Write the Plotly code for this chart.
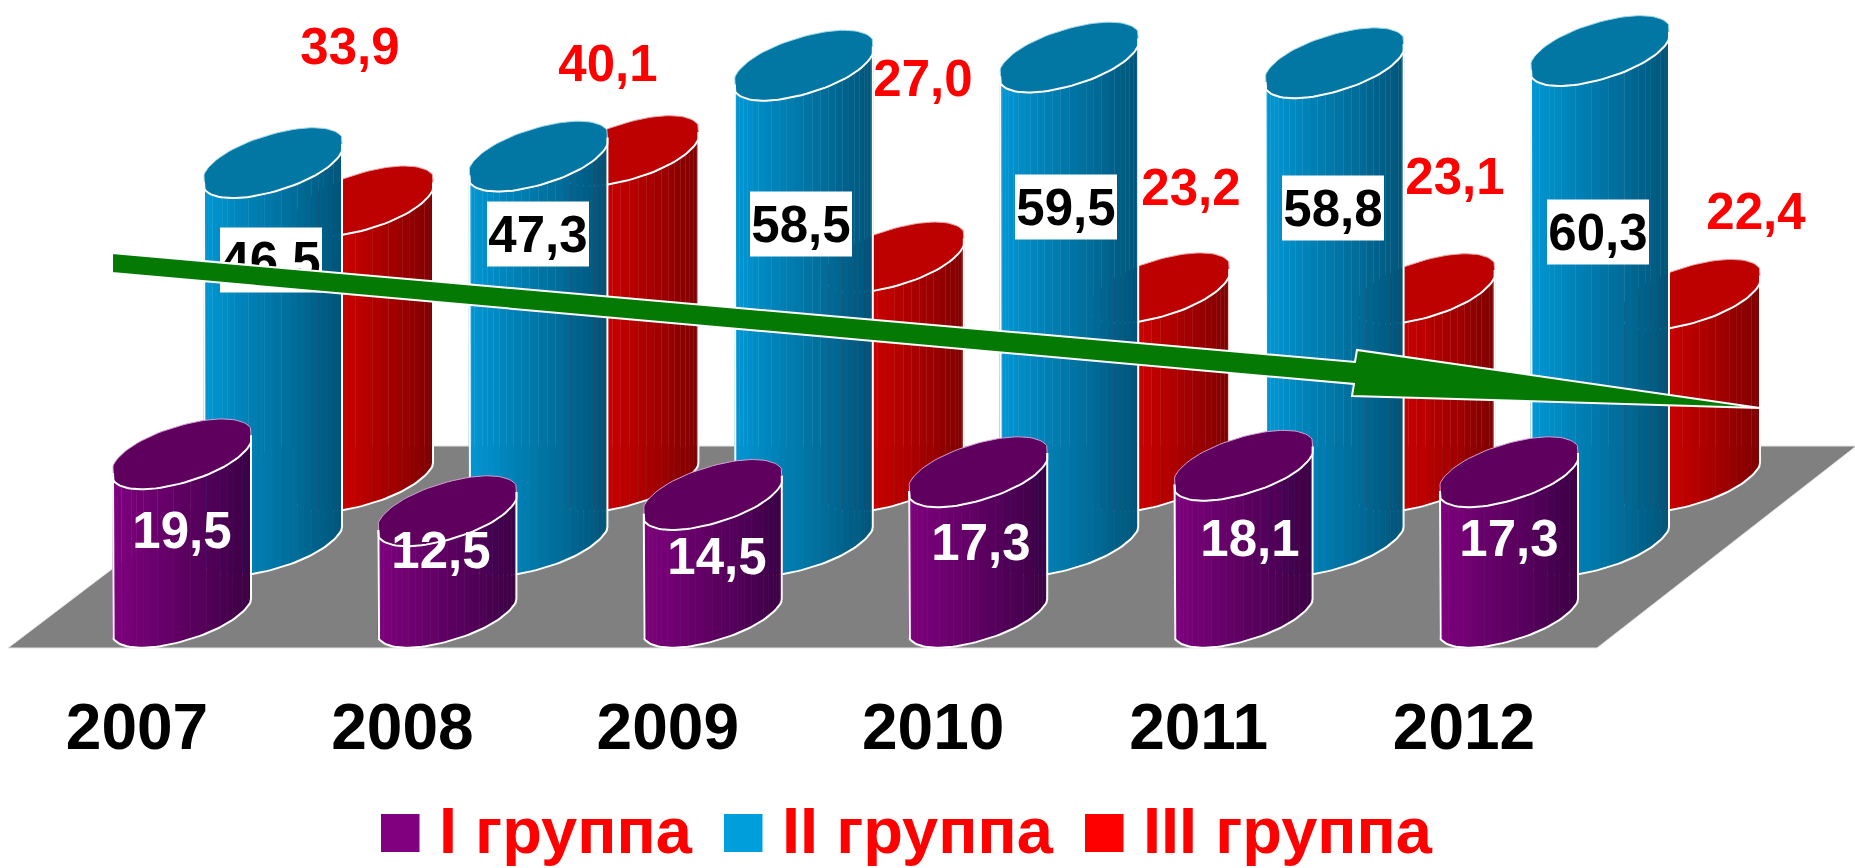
import numpy as np
import plotly.graph_objects as go

# ---- data -----------------------------------------------------------------
years = ["2007", "2008", "2009", "2010", "2011", "2012"]
group1 = [19.5, 12.5, 14.5, 17.3, 18.1, 17.3]
group2 = [46.5, 47.3, 58.5, 59.5, 58.8, 60.3]
group3 = [33.9, 40.1, 27.0, 23.2, 23.1, 22.4]
legend_names = ["I группа", "II группа", "III группа"]

# ---- layout of the fake 3-D scene (page pixels) ----------------------------
W, H = 1855, 868
PLOT_BOTTOM = 684
X0, X_UNIT = 137.0, 265.4     # page x of category 0, pixels per category
Y0, Y_UNIT = 612.5, 8.12      # page y of value 0 on the front row, px per unit
FONT = "Liberation Sans"


def dx(px):
    return (px - X0) / X_UNIT


def dy(py):
    return (Y0 - py) / Y_UNIT


R_X = 69 / X_UNIT
SHEAR = 19 / Y_UNIT
R_Y = 29 / Y_UNIT
SUPER = 0.95                  # slightly squared-off ellipse, as in the original caps
CLIP = 1.025                  # short vertical runs at the left and right of every cap
CENTER_OFFSET = 45 / X_UNIT
DEPTH_X = 91 / X_UNIT

# grad0: where, across the cylinder (-1 left .. 1 right), the colour ramp starts
series = [
    dict(vals=group3, slot=2, lift=136 / Y_UNIT, left=(204, 0, 0), right=(125, 0, 0),
         cap="#BD0000", edge="#F0A0A0", grad0=-0.32),
    dict(vals=group2, slot=1, lift=72 / Y_UNIT, left=(0, 152, 214), right=(0, 84, 120),
         cap="#0377A4", edge="#A0D8EC", grad0=-1.0),
    dict(vals=group1, slot=0, lift=0.0, left=(128, 0, 128), right=(60, 0, 68),
         cap="#5F005F", edge="#D0A0D0", grad0=-1.0),
]

N_BANDS = 28
N_ARC = 4

fig = go.Figure()

# floor
floor_px = [(8, 648), (274, 446), (1855, 446), (1855, 447), (1597, 648)]
fig.add_trace(go.Scatter(x=[dx(p[0]) for p in floor_px] + [dx(8)],
                         y=[dy(p[1]) for p in floor_px] + [dy(648)],
                         mode="lines", fill="toself", fillcolor="#808080",
                         line=dict(color="#E4E4E4", width=1), hoverinfo="skip"))


def ellipse(cx, cy, t):
    c = np.sign(np.cos(t)) * np.abs(np.cos(t)) ** SUPER
    s = np.sign(np.sin(t)) * np.abs(np.sin(t)) ** SUPER
    return cx + R_X * np.clip(c * CLIP, -1, 1), cy + SHEAR * c + R_Y * s


for s in series:
    edges = np.linspace(np.pi, 2 * np.pi, N_BANDS + 1)
    centers = [i + CENTER_OFFSET + s["slot"] * DEPTH_X for i in range(len(years))]
    # gradient body, one trace per colour band
    for b in range(N_BANDS):
        t = np.linspace(edges[b], edges[b + 1], N_ARC)
        xs, ys = [], []
        for cx, v in zip(centers, s["vals"]):
            xb, yb = ellipse(cx, s["lift"], t)
            xt, yt = ellipse(cx, s["lift"] + v, t)
            xs += list(xb) + list(xt[::-1]) + [xb[0], None]
            ys += list(yb) + list(yt[::-1]) + [yb[0], None]
        mid = 0.5 * (np.cos(edges[b]) + np.cos(edges[b + 1]))
        f = float(np.clip((mid - s["grad0"]) / (1 - s["grad0"]), 0, 1))
        c = [round(l + (r - l) * f) for l, r in zip(s["left"], s["right"])]
        col = "rgb(%d,%d,%d)" % tuple(c)
        fig.add_trace(go.Scatter(x=xs, y=ys, mode="lines", fill="toself", fillcolor=col,
                                 line=dict(color=col, width=0.4), hoverinfo="skip"))
    # white side and bottom outline
    t = np.linspace(np.pi, 2 * np.pi, 60)
    xs, ys = [], []
    for cx, v in zip(centers, s["vals"]):
        xb, yb = ellipse(cx, s["lift"], t)
        xt, yt = ellipse(cx, s["lift"] + v, t)
        xs += [xt[0]] + list(xb) + [xt[-1], None]
        ys += [yt[0]] + list(yb) + [yt[-1], None]
    fig.add_trace(go.Scatter(x=xs, y=ys, mode="lines", line=dict(color="white", width=2),
                             hoverinfo="skip"))
    # caps
    t = np.linspace(0, 2 * np.pi, 97)
    xs, ys = [], []
    for cx, v in zip(centers, s["vals"]):
        xt, yt = ellipse(cx, s["lift"] + v, t)
        xs += list(xt) + [None]
        ys += list(yt) + [None]
    fig.add_trace(go.Scatter(x=xs, y=ys, mode="lines", fill="toself", fillcolor=s["cap"],
                             line=dict(color=s["edge"], width=1), hoverinfo="skip"))
    t = np.linspace(np.pi, 2 * np.pi, 50)
    xs, ys = [], []
    for cx, v in zip(centers, s["vals"]):
        xt, yt = ellipse(cx, s["lift"] + v, t)
        xs += list(xt) + [None]
        ys += list(yt) + [None]
    fig.add_trace(go.Scatter(x=xs, y=ys, mode="lines", line=dict(color="white", width=2),
                             hoverinfo="skip"))

# ---- data labels (hand-placed in the original) ------------------------------
red_label_px = [(350, 46), (608, 63), (923, 78), (1191, 187), (1455, 176), (1756, 211)]
blue_label_px = [(271, 260), (538, 234), (801, 224), (1066, 207), (1333, 208), (1598, 232)]
purple_label_px = [(182, 530), (441, 550), (717, 556), (981, 542), (1250, 538), (1509, 538)]
LABEL_SIZE = 51
TEXT_NUDGE = 5
BOX_W, BOX_H = 102, 65


def fmt(v):
    return ("%.1f" % v).replace(".", ",")


# white boxes behind the blue labels
bx, by = [], []
for px, py in blue_label_px:
    bx += [dx(px - BOX_W / 2), dx(px + BOX_W / 2), dx(px + BOX_W / 2), dx(px - BOX_W / 2), dx(px - BOX_W / 2), None]
    by += [dy(py - BOX_H / 2), dy(py - BOX_H / 2), dy(py + BOX_H / 2), dy(py + BOX_H / 2), dy(py - BOX_H / 2), None]
fig.add_trace(go.Scatter(x=bx, y=by, mode="lines", fill="toself", fillcolor="white",
                         line=dict(color="white", width=0), hoverinfo="skip"))

for vals, pos, col in [(group3, red_label_px, "#FF0000"),
                       (group2, blue_label_px, "#000000"),
                       (group1, purple_label_px, "#FFFFFF")]:
    fig.add_trace(go.Scatter(x=[dx(p[0]) for p in pos], y=[dy(p[1] + TEXT_NUDGE) for p in pos],
                             mode="text", text=[fmt(v) for v in vals],
                             textposition="middle center",
                             textfont=dict(family=FONT, size=LABEL_SIZE, color=col, weight=700),
                             hoverinfo="skip", cliponaxis=False))

# ---- trend arrow ------------------------------------------------------------
arrow_px = [(112, 253), (1355, 362), (1357, 350), (1760, 408), (1352, 396), (1354, 384), (112, 273)]
arrow_path = "M " + " L ".join("%.4f,%.4f" % (dx(a), dy(b)) for a, b in arrow_px) + " Z"
shapes = [dict(type="path", path=arrow_path, xref="x", yref="y", layer="above",
               fillcolor="#047A04", line=dict(color="white", width=2))]

# ---- legend -----------------------------------------------------------------
legend_swatches = [(381, "#800080"), (724, "#009FDC"), (1085, "#FF0000")]
legend_text_x = [437, 780, 1141]
annotations = []
for (sx, col), tx, name in zip(legend_swatches, legend_text_x, legend_names):
    shapes.append(dict(type="rect", xref="paper", yref="paper",
                       x0=sx / W, x1=(sx + 38.5) / W,
                       y0=1 - 814 / PLOT_BOTTOM, y1=1 - 852 / PLOT_BOTTOM,
                       fillcolor=col, line=dict(width=0)))
    annotations.append(dict(xref="paper", yref="paper", x=tx / W, y=1 - 831 / PLOT_BOTTOM,
                            xanchor="left", yanchor="middle", showarrow=False, text=name,
                            font=dict(family=FONT, size=65, color="#FF0000", weight=700)))

fig.update_layout(
    width=W, height=H, showlegend=False,
    margin=dict(l=0, r=0, t=0, b=H - PLOT_BOTTOM, pad=0),
    paper_bgcolor="white", plot_bgcolor="white",
    xaxis=dict(range=[dx(0), dx(W)], tickmode="array", tickvals=list(range(len(years))),
               ticktext=years, showgrid=False, zeroline=False, showline=False, ticks="",
               tickfont=dict(family=FONT, size=64, color="black", weight=700)),
    yaxis=dict(range=[dy(PLOT_BOTTOM), dy(0)], visible=False, showgrid=False, zeroline=False),
    shapes=shapes, annotations=annotations,
)

fig.write_html("out.html", config=dict(displayModeBar=False),
               post_script="document.body.style.margin='0';document.body.style.overflow='hidden';")
